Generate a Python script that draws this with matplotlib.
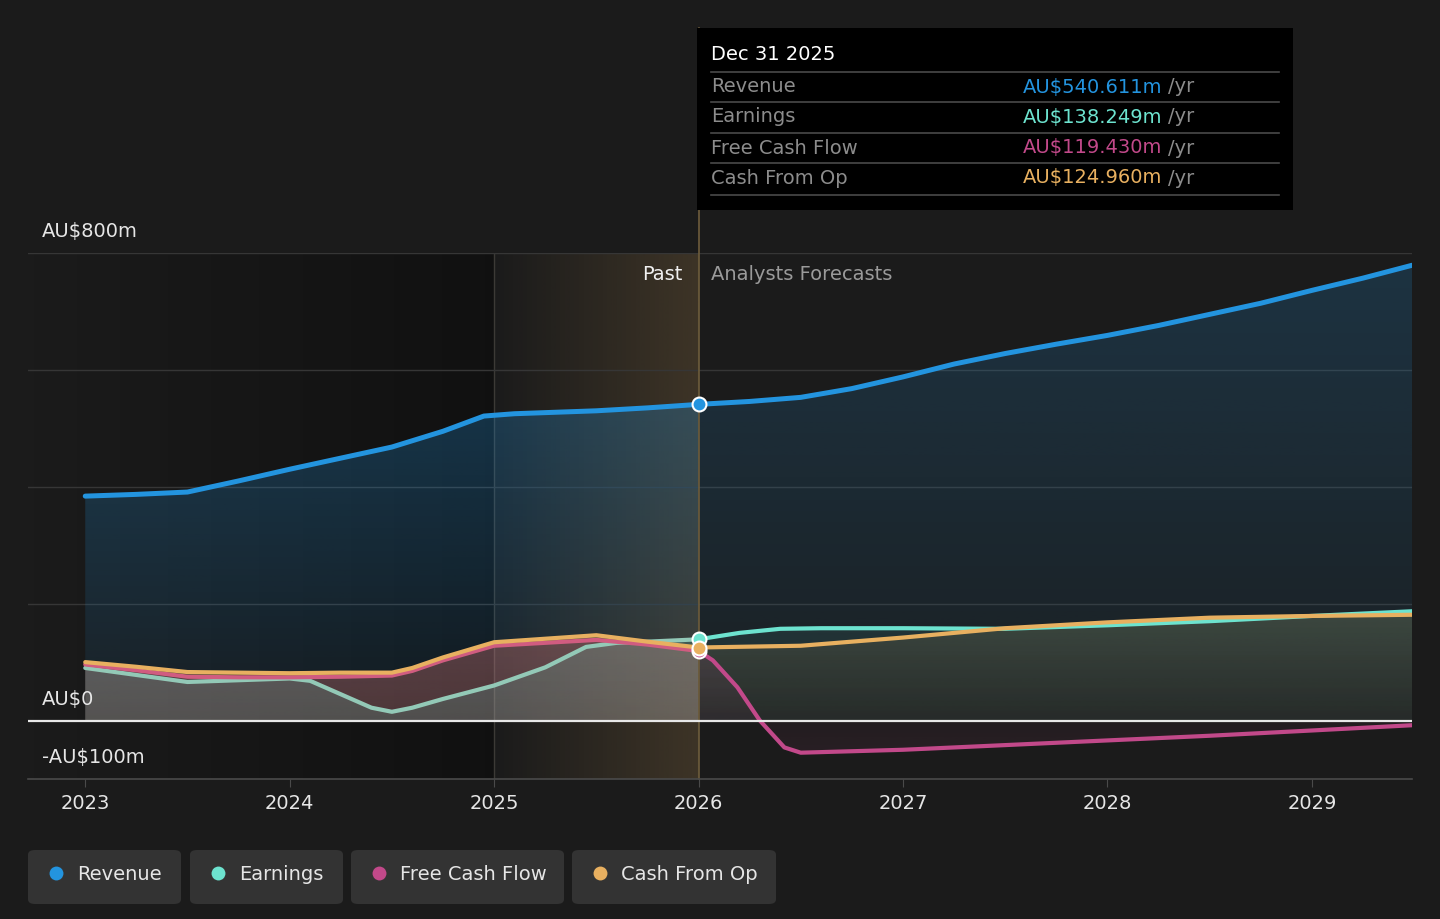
import numpy as np
import matplotlib
matplotlib.use("Agg")
import matplotlib.pyplot as plt
from matplotlib.patches import FancyBboxPatch, Rectangle
from matplotlib.colors import to_rgb

# ---------------- data ----------------
rev_x = [2023.0, 2023.25, 2023.5, 2023.75, 2024.0, 2024.25, 2024.5, 2024.75, 2024.95, 2025.1,
         2025.5, 2025.75, 2026.0, 2026.25, 2026.5, 2026.75, 2027.0, 2027.25, 2027.5, 2027.75,
         2028.0, 2028.25, 2028.5, 2028.75, 2029.0, 2029.25, 2029.49]
rev_y = [384, 387, 391, 410, 430, 449, 468, 495, 521, 525,
         530, 535, 541, 546, 553, 568, 588, 610, 628, 644,
         659, 676, 695, 714, 736, 757, 779]

earn_x = [2023.0, 2023.25, 2023.5, 2023.75, 2024.0, 2024.1, 2024.25, 2024.4, 2024.5, 2024.6,
          2024.75, 2025.0, 2025.25, 2025.45, 2025.6, 2025.75, 2026.0, 2026.2, 2026.4, 2026.6,
          2027.0, 2027.5, 2028.0, 2028.5, 2029.0, 2029.49]
earn_y = [90, 78, 66, 69, 72, 68, 45, 22, 15, 22,
          37, 60, 91, 126, 133, 135, 139, 150, 157, 158,
          158, 157, 163, 170, 179, 187]

fcf_x = [2023.0, 2023.25, 2023.5, 2023.75, 2024.0, 2024.25, 2024.5, 2024.6, 2024.75, 2025.0,
         2025.25, 2025.5, 2025.75, 2026.0, 2026.07, 2026.19, 2026.3, 2026.42, 2026.5, 2027.0,
         2027.5, 2028.0, 2028.5, 2029.0, 2029.49]
fcf_y = [96, 86, 75, 74, 74, 75, 77, 85, 103, 128,
         133, 138, 130, 119, 103, 57, 0, -46, -55, -50,
         -42, -34, -26, -17, -8]

cfo_x = [2023.0, 2023.25, 2023.5, 2023.75, 2024.0, 2024.25, 2024.5, 2024.6, 2024.75, 2025.0,
         2025.25, 2025.5, 2025.75, 2026.0, 2026.5, 2027.0, 2027.5, 2028.0, 2028.5, 2029.0, 2029.49]
cfo_y = [100, 92, 83, 82, 81, 82, 82, 90, 108, 134,
         140, 146, 135, 125, 128, 142, 158, 168, 176, 179, 181]

years = [2023, 2024, 2025, 2026, 2027, 2028, 2029]
year_labels = ["2023", "2024", "2025", "2026", "2027", "2028", "2029"]
series_names = ["Revenue", "Earnings", "Free Cash Flow", "Cash From Op"]
tooltip_values = ["AU$540.611m", "AU$138.249m", "AU$119.430m", "AU$124.960m"]
tooltip_date = "Dec 31 2025"
y_labels = {800: "AU$800m", 0: "AU$0", -100: "-AU$100m"}

C_REV = "#2394df"
C_EARN = "#6de3cf"
C_FCF = "#c2498a"
C_CFO = "#e8b060"
BG = "#1b1b1b"
FS = 14

W, H = 1440, 919
fig = plt.figure(figsize=(W / 100, H / 100), dpi=100, facecolor=BG)


def fx(x):
    return x / W


def fy(y):
    return 1 - y / H


ax = fig.add_axes([fx(28), fy(779), fx(1412) - fx(28), fy(253) - fy(779)])
ax.set_facecolor(BG)
XMIN, XMAX = 2022.72, 2029.49
YMIN, YMAX = -100, 800
SPLIT = 2026.0

# past shading: darkening gradient up to 2025, gold gradient 2025-2026
dark = np.zeros((1, 256, 4))
dark[0, :, 3] = np.linspace(0.0, 0.38, 256)
ax.imshow(dark, extent=[XMIN, 2025, YMIN, YMAX], aspect="auto", origin="lower", zorder=0.4)
gold = np.zeros((1, 256, 4))
gold[..., :3] = to_rgb(C_CFO)
gold[0, :, 3] = np.linspace(0.0, 0.17, 256)
ax.imshow(gold, extent=[2025, 2026, YMIN, YMAX], aspect="auto", origin="lower", zorder=0.5)
ax.plot([2025, 2025], [YMIN, YMAX], color="#3c3a36", lw=1, zorder=0.6)

# grid
for g in [200, 400, 600, 800]:
    ax.axhline(g, color="#363636", lw=1, zorder=0.7)


def grad_fill(x, y, color, a_top, a_bot, z):
    x = np.asarray(x, float)
    y = np.asarray(y, float)
    poly = ax.fill_between(x, 0, y, facecolor="none", edgecolor="none")
    lo, hi = min(0, y.min()), max(0, y.max())
    vals = np.linspace(lo, hi, 256)
    m = max(abs(lo), abs(hi))
    img = np.zeros((256, 1, 4))
    img[..., :3] = to_rgb(color)
    img[:, 0, 3] = a_bot + (a_top - a_bot) * np.abs(vals) / m
    im = ax.imshow(img, extent=[x.min(), x.max(), lo, hi], aspect="auto", origin="lower", zorder=z)
    im.set_clip_path(poly.get_paths()[0], transform=ax.transData)


def split(xs, ys):
    i = xs.index(SPLIT)
    return (xs[:i + 1], ys[:i + 1]), (xs[i:], ys[i:])


pr, fr = split(rev_x, rev_y)
grad_fill(pr[0], pr[1], C_REV, 0.27, 0.06, 1)
grad_fill(fr[0], fr[1], C_REV, 0.20, 0.04, 1)
for k, (xs, ys, c, past_a, fut_a) in enumerate([
        (cfo_x, cfo_y, C_CFO, (0.21, 0.17), (0.14, 0.05)),
        (fcf_x, fcf_y, C_FCF, (0.20, 0.16), (0.12, 0.05)),
        (earn_x, earn_y, C_EARN, (0.18, 0.15), (0.10, 0.03))]):
    p, f = split(xs, ys)
    grad_fill(p[0], p[1], c, past_a[0], past_a[1], 1.1 + k * 0.1)
    grad_fill(f[0], f[1], c, fut_a[0], fut_a[1], 1.1 + k * 0.1)

# lines (past segments slightly muted)
ax.plot(rev_x, rev_y, color=C_REV, lw=3.6, zorder=3, solid_capstyle="round")
pe, fe = split(earn_x, earn_y)
ax.plot(pe[0], pe[1], color="#93c9b7", lw=3.0, zorder=3.1, solid_capstyle="round")
ax.plot(fe[0], fe[1], color=C_EARN, lw=3.0, zorder=3.1, solid_capstyle="round")
pf, ff = split(fcf_x, fcf_y)
ax.plot(pf[0], pf[1], color="#d05c80", lw=3.0, zorder=3.2, solid_capstyle="round")
ax.plot(ff[0], ff[1], color=C_FCF, lw=3.0, zorder=3.2, solid_capstyle="round")
ax.plot(cfo_x, cfo_y, color=C_CFO, lw=3.0, zorder=3.3, solid_capstyle="round")

ax.axhline(0, color="#e8e8e8", lw=1.6, zorder=3.5)

# vertical line at 2026 extending up to tooltip
ytop = (720 - 28) / (467 / 800)
ax.plot([2026, 2026], [YMIN, ytop], color="#6e5d3c", lw=1.2, zorder=2.5, clip_on=False)

# markers
for xs, ys, c in [(rev_x, rev_y, C_REV), (earn_x, earn_y, C_EARN),
                  (fcf_x, fcf_y, C_FCF), (cfo_x, cfo_y, C_CFO)]:
    i = xs.index(2026.0)
    ax.plot(xs[i], ys[i], "o", ms=10, mfc=c, mec="white", mew=1.5, zorder=5)

ax.set_xlim(XMIN, XMAX)
ax.set_ylim(YMIN, YMAX)
for s in ["top", "right", "left"]:
    ax.spines[s].set_visible(False)
ax.spines["bottom"].set_color("#4a4a4a")
ax.spines["bottom"].set_linewidth(1.2)
ax.set_yticks([])
ax.set_xticks(years)
ax.set_xticklabels(year_labels, color="#e6e6e6", fontsize=FS)
ax.tick_params(axis="x", length=6, color="#4a4a4a", pad=5)

# y labels
for v, t in y_labels.items():
    py = {800: 232, 0: 699, -100: 758}[v]
    fig.text(fx(42), fy(py), t, color="#e6e6e6", fontsize=FS, va="center", ha="left")

fig.text(fx(683), fy(274), "Past", color="#f0f0f0", fontsize=FS, va="center", ha="right")
fig.text(fx(711), fy(274), "Analysts Forecasts", color="#9a9a9a", fontsize=FS, va="center", ha="left")

# tooltip
fig.patches.append(Rectangle((fx(697), fy(210)), fx(1293) - fx(697), fy(28) - fy(210),
                             transform=fig.transFigure, facecolor="#000000", edgecolor="none", zorder=10))
fig.text(fx(711), fy(55), tooltip_date, color="#ffffff", fontsize=FS, va="center", ha="left", zorder=11)
row_y = [87, 117, 148, 178]
div_y = [72, 102, 133, 163, 195]
for dy in div_y:
    fig.add_artist(plt.Line2D([fx(711), fx(1279)], [fy(dy), fy(dy)], transform=fig.transFigure,
                              color="#4a4a4a", lw=1.2, zorder=11))
for name, val, c, ry in zip(series_names, tooltip_values, [C_REV, C_EARN, C_FCF, C_CFO], row_y):
    fig.text(fx(711), fy(ry), name, color="#8c8c8c", fontsize=FS, va="center", ha="left", zorder=12)
    fig.text(fx(1023), fy(ry), val, color=c, fontsize=FS, va="center", ha="left", zorder=12)
    fig.text(fx(1168), fy(ry), "/yr", color="#8c8c8c", fontsize=FS, va="center", ha="left", zorder=12)

# legend
boxes = [(28, 181), (190, 343), (351, 564), (572, 776)]
for (x0, x1), name, c in zip(boxes, series_names, [C_REV, C_EARN, C_FCF, C_CFO]):
    fig.patches.append(FancyBboxPatch((fx(x0), fy(904)), fx(x1) - fx(x0), fy(850) - fy(904),
                                      boxstyle="round,pad=0,rounding_size=0.005",
                                      transform=fig.transFigure, facecolor="#333333",
                                      edgecolor="none", zorder=1))
    fig.add_artist(plt.Line2D([fx(x0 + 28)], [fy(873)], marker="o", ms=10, mfc=c, mec="none",
                              transform=fig.transFigure, zorder=2))
    fig.text(fx(x0 + 49), fy(874), name, color="#e6e6e6", fontsize=FS, va="center", ha="left", zorder=3)

fig.savefig("out.png", dpi=100, facecolor=BG)
